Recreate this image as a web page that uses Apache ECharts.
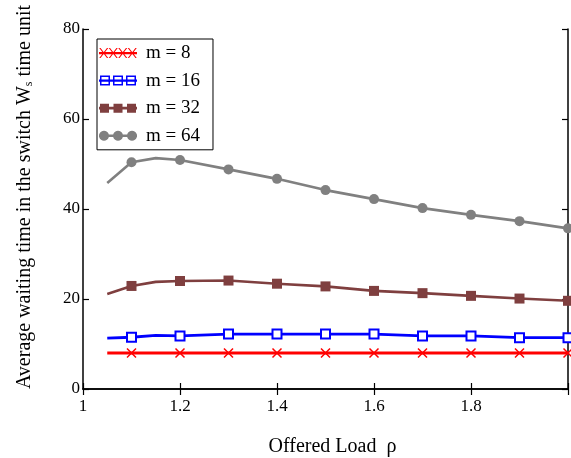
<!DOCTYPE html>
<html>
<head>
<meta charset="utf-8">
<script src="https://cdn.jsdelivr.net/npm/echarts@6/dist/echarts.min.js"></script>
<style>html,body{margin:0;padding:0;background:#fff}#c{width:571px;height:458px}</style>
</head>
<body>
<div id="c"></div>
<script>
// ---- data ----
const loads = [1.05, 1.1, 1.15, 1.2, 1.3, 1.4, 1.5, 1.6, 1.7, 1.8, 1.9, 2.0];
const noMarkerLoads = [1.05, 1.15];
const seriesNames = ['m = 8', 'm = 16', 'm = 32', 'm = 64'];
const m8  = [8.0, 8.0, 8.0, 8.0, 8.0, 8.0, 8.0, 8.0, 8.0, 8.0, 8.0, 8.0];
const m16 = [11.3, 11.5, 11.9, 11.8, 12.2, 12.2, 12.2, 12.2, 11.8, 11.8, 11.4, 11.4];
const m32 = [21.1, 22.9, 23.8, 24.0, 24.1, 23.4, 22.8, 21.8, 21.3, 20.7, 20.1, 19.6];
const m64 = [45.8, 50.4, 51.3, 50.9, 48.8, 46.7, 44.2, 42.2, 40.2, 38.7, 37.3, 35.7];
const xTicks = [1, 1.2, 1.4, 1.6, 1.8];
const yTicks = [0, 20, 40, 60, 80];

// ---- styling helpers ----
const FONT = 'Liberation Serif';
function pts(vals) {
  return loads.map((x, i) => {
    const item = { value: [x, vals[i]] };
    if (noMarkerLoads.indexOf(x) >= 0) item.symbol = 'none';
    return item;
  });
}
function rect(x, y, w, h, ccw) {
  return ccw
    ? `M${x},${y}L${x},${y+h}L${x+w},${y+h}L${x+w},${y}Z`
    : `M${x},${y}L${x+w},${y}L${x+w},${y+h}L${x},${y+h}Z`;
}
// icons: 38 x 10 box
function iconCross() {
  let p = rect(0, 4, 38, 2.2);
  for (let k = 0; k < 4; k++) {
    const cx = 4.75 + 9.5 * k;
    p += `M${cx-4.5},0L${cx-3.2},0L${cx+4.5},10L${cx+3.2},10Z`;
    p += `M${cx+3.2},0L${cx+4.5},0L${cx-3.2},10L${cx-4.5},10Z`;
  }
  return 'path://' + p;
}
function iconOpenSq() {
  let p = rect(0, 4, 38, 2.2);
  [1, 14, 27].forEach(x => { p += rect(x, 0, 10, 10) + rect(x + 1.5, 1.5, 7, 7, true); });
  return 'path://' + p;
}
function iconFilledSq() {
  let p = rect(0, 3.6, 38, 2.8);
  [1, 14.5, 28].forEach(x => { p += rect(x, 0.5, 9, 9); });
  return 'path://' + p;
}
function iconCircle() {
  let p = rect(0, 3.8, 38, 2.4, true);
  [5, 19, 33].forEach(cx => {
    const n = 20;
    for (let i = 0; i <= n; i++) {
      const a = -2 * Math.PI * i / n;
      const x = cx + 5 * Math.cos(a), y = 5 + 5 * Math.sin(a);
      p += (i === 0 ? 'M' : 'L') + x.toFixed(2) + ',' + y.toFixed(2);
    }
    p += 'Z';
  });
  return 'path://' + p;
}

const colors = ['#ff0000', '#0000ff', '#7f3f3f', '#808080'];
const fmtX = v => {
  const r = Math.round(v * 10) / 10;
  return xTicks.indexOf(r) >= 0 ? String(r) : '';
};
const fmtY = v => (yTicks.indexOf(Math.round(v)) >= 0 ? String(Math.round(v)) : '');

const axisCommon = {
  axisLine: { show: true, lineStyle: { color: '#000', width: 1.5 } },
  axisTick: { show: true, inside: true, length: 6, lineStyle: { color: '#000', width: 1.2 } },
  splitLine: { show: false }
};

const chart = echarts.init(document.getElementById('c'), null, { renderer: 'canvas' });
chart.setOption({
  animation: false,
  backgroundColor: '#fff',
  textStyle: { fontFamily: FONT },
  grid: { left: 83, right: 3, top: 29, bottom: 69, containLabel: false, outerBoundsMode: 'none' },
  legend: {
    orient: 'vertical',
    left: 97, top: 39,
    padding: [4, 13, 4, 2],
    itemGap: 7.6,
    itemWidth: 38, itemHeight: 10,
    borderColor: '#000', borderWidth: 1,
    backgroundColor: '#fff',
    textStyle: { fontFamily: FONT, fontSize: 19, color: '#000', lineHeight: 20, padding: [0, 0, 0, 4] },
    itemStyle: { borderWidth: 0 },
    data: [
      { name: seriesNames[0], icon: iconCross() },
      { name: seriesNames[1], icon: iconOpenSq() },
      { name: seriesNames[2], icon: iconFilledSq() },
      { name: seriesNames[3], icon: iconCircle() }
    ]
  },
  xAxis: [
    Object.assign({}, axisCommon, {
      type: 'value', min: 1, max: 2, interval: 0.2, position: 'bottom',
      name: 'Offered Load  ρ', nameLocation: 'middle', nameGap: 48,
      nameTextStyle: { fontFamily: FONT, fontSize: 20, color: '#000', padding: [0, 0, 0, 14] },
      axisLabel: { show: true, color: '#000', fontFamily: FONT, fontSize: 17, margin: 9, formatter: fmtX }
    }),
    Object.assign({}, axisCommon, {
      type: 'value', min: 1, max: 2, interval: 0.2, position: 'top',
      axisLabel: { show: false }
    })
  ],
  yAxis: [
    Object.assign({}, axisCommon, {
      type: 'value', min: 0, max: 80, interval: 20, position: 'left',
      name: 'Average waiting time in the switch W{s|s} time unit',
      nameLocation: 'middle', nameGap: 48, nameRotate: 90,
      nameTextStyle: {
        fontFamily: FONT, fontSize: 20, color: '#000', padding: [0, 0, 0, 24],
        rich: { s: { fontFamily: FONT, fontSize: 12, color: '#000', padding: [8, 0, 0, 0] } }
      },
      axisLabel: { show: true, color: '#000', fontFamily: FONT, fontSize: 17, margin: 3, formatter: fmtY }
    }),
    Object.assign({}, axisCommon, {
      type: 'value', min: 0, max: 80, interval: 20, position: 'right',
      axisLabel: { show: false }
    })
  ],
  series: [
    {
      name: seriesNames[0], type: 'line', data: pts(m8), color: colors[0],
      symbol: 'path://M0,0L10,10M10,0L0,10', symbolSize: 9,
      itemStyle: { color: colors[0], borderColor: colors[0], borderWidth: 1.5 },
      lineStyle: { width: 2.8, color: colors[0] }, z: 5
    },
    {
      name: seriesNames[1], type: 'line', data: pts(m16), color: colors[1],
      symbol: 'emptyRect', symbolSize: 9,
      itemStyle: { color: colors[1], borderWidth: 1.5 },
      lineStyle: { width: 2.8, color: colors[1] }, z: 4
    },
    {
      name: seriesNames[2], type: 'line', data: pts(m32), color: colors[2],
      symbol: 'rect', symbolSize: 10,
      itemStyle: { color: colors[2] },
      lineStyle: { width: 2.6, color: colors[2] }, z: 3
    },
    {
      name: seriesNames[3], type: 'line', data: pts(m64), color: colors[3],
      symbol: 'circle', symbolSize: 10,
      itemStyle: { color: colors[3] },
      lineStyle: { width: 2.6, color: colors[3] }, z: 2
    }
  ]
});
</script>
</body>
</html>
